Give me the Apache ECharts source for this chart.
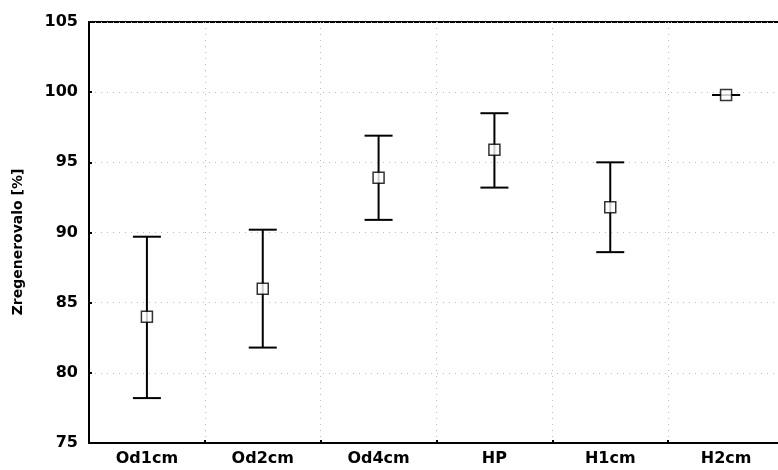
<!DOCTYPE html>
<html>
<head>
<meta charset="utf-8">
<script src="https://cdn.jsdelivr.net/npm/echarts@6/dist/echarts.min.js"></script>
<style>
  html, body { margin: 0; padding: 0; background: #fff; }
  #chart { width: 778px; height: 470px; }
</style>
</head>
<body>
<div id="chart"></div>
<script>
// data
var categories = ['Od1cm', 'Od2cm', 'Od4cm', 'HP', 'H1cm', 'H2cm']
var means = [84.0, 86.0, 93.9, 95.9, 91.8, 99.8]
var upper = [89.7, 90.2, 96.9, 98.5, 95.0, 99.8]
var lower = [78.2, 81.8, 90.9, 93.2, 88.6, 99.8]
var yTicks = [75, 80, 85, 90, 95, 100, 105]

var chart = echarts.init(document.getElementById('chart'), null, { renderer: 'canvas' })

var errData = categories.map(function (c, i) {
  return [i, lower[i], upper[i]]
})

var labelFont = {
  color: '#000',
  fontFamily: 'DejaVu Sans',
  fontWeight: 'bold',
  fontSize: 16
}

chart.setOption({
  animation: false,
  grid: {
    left: 89,
    top: 22,
    width: 695,
    height: 421,
    outerBoundsMode: 'none',
    containLabel: false,
    show: true,
    borderColor: '#000',
    borderWidth: 2,
    backgroundColor: 'transparent'
  },
  graphic: [{
    type: 'text',
    x: 18,
    y: 242,
    rotation: Math.PI / 2,
    style: {
      text: 'Zregenerovalo [%]',
      fill: '#000',
      font: 'bold 14px "DejaVu Sans"',
      align: 'center',
      verticalAlign: 'middle'
    }
  }],
  xAxis: {
    type: 'category',
    data: categories,
    boundaryGap: true,
    axisLine: { lineStyle: { color: '#000', width: 2 } },
    axisTick: { show: true, inside: true, length: 3, lineStyle: { color: '#000', width: 2 } },
    axisLabel: Object.assign({ margin: 8 }, labelFont),
    splitLine: {
      show: true,
      lineStyle: { color: '#bbb', type: [1, 5], width: 1 }
    }
  },
  yAxis: {
    type: 'value',
    min: yTicks[0],
    max: yTicks[yTicks.length - 1],
    interval: 5,
    axisLine: { show: true, lineStyle: { color: '#000', width: 2 } },
    axisTick: { show: true, inside: true, length: 3, lineStyle: { color: '#000', width: 2 } },
    axisLabel: Object.assign({ margin: 11 }, labelFont),
    splitLine: {
      show: true,
      lineStyle: { color: '#bbb', type: [1, 5], width: 1 }
    }
  },
  series: [
    {
      type: 'custom',
      data: errData,
      z: 3,
      renderItem: function (params, api) {
        var x = api.value(0)
        var lo = api.coord([x, api.value(1)])
        var hi = api.coord([x, api.value(2)])
        var half = 14
        var style = { stroke: '#000', lineWidth: 2 }
        return {
          type: 'group',
          children: [
            { type: 'line', shape: { x1: lo[0], y1: lo[1], x2: hi[0], y2: hi[1] }, style: style },
            { type: 'line', shape: { x1: lo[0] - half, y1: lo[1], x2: lo[0] + half, y2: lo[1] }, style: style },
            { type: 'line', shape: { x1: hi[0] - half, y1: hi[1], x2: hi[0] + half, y2: hi[1] }, style: style }
          ]
        }
      }
    },
    {
      type: 'scatter',
      data: means,
      symbol: 'rect',
      symbolSize: 11,
      z: 5,
      itemStyle: { color: '#fff', borderColor: '#000', borderWidth: 1.5 }
    }
  ]
})
</script>
</body>
</html>
